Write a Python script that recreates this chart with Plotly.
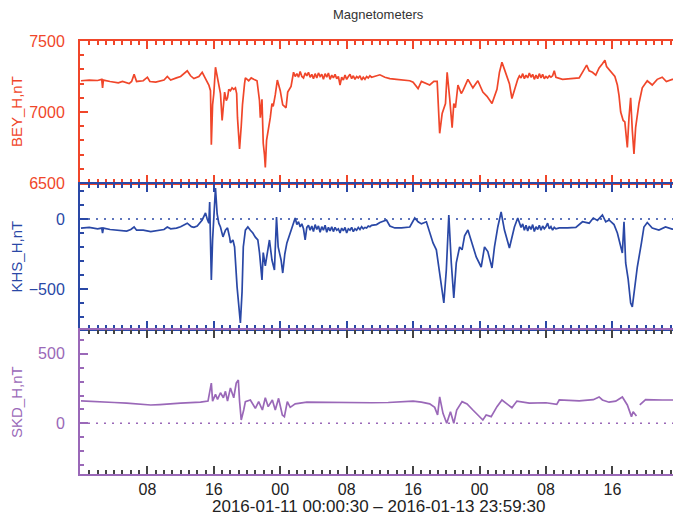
import datetime as dt
import plotly.graph_objects as go

# ---------------- data (hours since 2016-01-11 00:00 UT, nT) ----------------
bey_h = [0.0, 1.0, 2.0, 2.5, 2.6, 2.7, 3.5, 4.5, 5.0, 5.8, 6.1, 6.4, 6.7, 7.5, 8.0, 8.3, 9.0, 10.0,
         10.4, 10.8, 11.5, 12.0, 12.8, 13.2, 13.6, 14.2, 14.6, 15.0, 15.4, 15.6, 15.7, 15.85, 16.0,
         16.2, 16.4, 16.6, 16.8, 17.0, 17.15, 17.3, 17.5, 17.65, 17.8, 18.0, 18.2, 18.4, 18.6, 18.75,
         18.85, 19.0, 19.1, 19.3, 19.45, 19.7, 19.8, 20.2, 20.5, 20.8, 21.2, 21.5, 21.6, 21.8, 21.95,
         22.1, 22.2, 22.35, 22.5, 22.6, 22.8, 23.0, 23.15, 23.4, 23.65, 24.0, 24.3, 24.7, 24.9, 25.3,
         25.6, 25.8, 26.0, 26.2, 26.4, 26.6, 26.8, 27.0, 27.2, 27.4, 27.6, 27.8, 28.0, 28.2, 28.4,
         28.6, 28.8, 29.0, 29.2, 29.4, 29.6, 29.8, 30.0, 30.2, 30.4, 30.6, 30.8, 31.0, 31.2, 31.4,
         31.6, 31.8, 32.0, 32.2, 32.4, 32.6, 32.8, 33.0, 33.2, 33.4, 33.6, 33.8, 34.0, 34.2, 34.4,
         34.6, 34.8, 35.0,
         35.6, 36.0, 36.6, 37.2, 38.0, 38.8, 39.6, 40.0, 40.6, 41.0, 41.6, 42.0, 42.5, 42.9, 43.2,
         43.5, 43.9, 44.1, 44.4, 44.7, 44.9, 45.1, 45.4, 45.8, 46.0, 46.6, 47.2, 47.8, 48.4, 48.9,
         49.5, 50.1, 50.4, 50.7, 51.0, 51.6, 51.9, 52.2, 52.6,
         52.8, 53.0, 53.2, 53.4, 53.6, 53.8, 54.0, 54.2, 54.4, 54.6, 54.8, 55.0, 55.2, 55.4, 55.6,
         55.8, 56.0, 56.2, 56.4, 56.6, 56.8, 57.0, 57.2,
         57.6, 58.0, 59.0, 60.0, 60.5, 60.9, 61.2, 61.6, 62.0, 62.4, 62.8, 63.1, 63.3, 63.6, 64.0,
         64.3, 64.6, 64.8, 65.0, 65.3, 65.5, 65.8, 66.0, 66.2, 66.4, 66.6, 66.8, 67.2, 67.6, 68.2,
         68.8, 69.4, 70.0, 70.5, 71.2, 72.0]
bey_v = [7220, 7225, 7222, 7230, 7170, 7225, 7215, 7205, 7215, 7200, 7215, 7265, 7215, 7220, 7245, 7215, 7210, 7225,
         7250, 7225, 7240, 7250, 7290, 7255, 7235, 7250, 7280, 7230, 7190, 7150, 6770, 7050, 7130,
         7315, 7250, 7200, 7130, 6940, 7060, 7140, 7080, 7100, 7160, 7150, 7170, 7160, 7170, 7130,
         6960, 6780, 6740, 6900, 7050, 7200, 7240, 7220, 7240, 7230, 7220, 7080, 6960, 7090, 6780,
         6700, 6610, 6800, 6850, 6900, 6960, 7060, 7040, 7120, 7225, 7150, 7050, 7030, 7140, 7180,
         7280, 7250, 7270, 7245, 7285, 7250, 7240, 7275, 7255, 7280, 7245, 7265, 7235, 7270, 7240,
         7275, 7250, 7265, 7230, 7270, 7245, 7275, 7230, 7260, 7240, 7265, 7235, 7250, 7190, 7245,
         7225, 7260, 7230, 7250, 7265, 7235, 7255, 7230, 7250, 7240, 7255, 7225, 7245, 7230, 7250,
         7240, 7255, 7245,
         7255, 7262, 7245, 7235, 7230, 7225, 7220, 7210, 7165, 7215, 7200, 7190, 7215, 7215, 6850,
         6990, 7060, 7280, 7100, 6890, 7060, 7030, 7190, 7130, 7150, 7230, 7170, 7220, 7140, 7110,
         7060, 7160, 7280, 7350, 7300, 7200, 7095, 7160, 7230,
         7255, 7240, 7270, 7235, 7260, 7240, 7275, 7245, 7265, 7230, 7260, 7235, 7270, 7240, 7265,
         7235, 7250, 7240, 7255, 7245, 7255, 7290, 7245,
         7235, 7230, 7235, 7240, 7290, 7330, 7290, 7280, 7260, 7310, 7340, 7365, 7320, 7300, 7275,
         7250, 7190, 7115, 7000, 6940, 6930, 6750, 6960, 7100, 6870, 6705, 6890, 7060, 7170, 7220,
         7190, 7230, 7245, 7215, 7230, 7225]

khs_h = [0.0, 1.0, 2.0, 2.5, 2.6, 2.7, 3.5, 4.5, 5.5, 6.0, 6.4, 6.7, 7.5, 8.4, 9.0, 10.0, 10.4, 10.8,
         11.5, 12.0, 12.8, 13.3, 13.6, 14.0, 14.6, 15.0, 15.2, 15.4, 15.5, 15.7, 15.85, 16.0, 16.2,
         16.4, 16.6, 16.8, 17.1, 17.4, 17.65, 17.9, 18.0, 18.3, 18.5, 18.8, 18.95, 19.2, 19.4, 19.55,
         19.8, 20.1, 20.4, 20.7, 21.0, 21.3, 21.5, 21.6, 21.8, 21.95, 22.2, 22.4, 22.7, 23.0, 23.3,
         23.55, 23.75, 24.1, 24.3, 24.55, 24.8,
         25.4, 25.6, 25.8, 26.0, 26.2, 26.4, 26.6, 26.8, 27.0, 27.2, 27.4, 27.6, 27.8, 28.0, 28.2,
         28.4, 28.6, 28.8, 29.0, 29.2, 29.4, 29.6, 29.8, 30.0, 30.2, 30.4, 30.6, 30.8, 31.0, 31.2,
         31.4, 31.6, 31.8, 32.0, 32.2, 32.4, 32.6, 32.8, 33.0, 33.2, 33.4, 33.6, 33.8, 34.0, 34.2,
         34.4, 34.6, 34.8, 35.0,
         35.6, 36.0, 36.8, 37.2, 37.8, 38.6, 39.6, 40.2, 40.6, 41.0, 41.6, 42.0, 42.4, 42.8, 43.2,
         43.7, 44.0, 44.3, 44.6, 44.9, 45.2, 45.6, 45.9, 46.2, 46.6, 47.2, 47.6, 48.2, 48.6, 49.0,
         49.5, 49.8, 50.2, 50.6, 51.0, 51.6, 52.2, 52.6,
         52.8, 53.0, 53.2, 53.4, 53.6, 53.8, 54.0, 54.2, 54.4, 54.6, 54.8, 55.0, 55.2, 55.4, 55.6,
         55.8, 56.0, 56.2, 56.4, 56.6, 56.8, 57.0, 57.2,
         57.6, 58.6, 59.6, 60.4, 61.2, 61.7, 62.2, 62.8, 63.2, 63.6, 64.2, 64.6, 65.0, 65.2, 65.4,
         65.6, 65.9, 66.2, 66.4, 66.7, 67.0, 67.5, 67.8, 68.2, 68.8, 69.6, 70.4, 71.2, 72.0]
khs_v = [-65, -60, -70, -65, -100, -65, -75, -80, -86, -75, -57, -80, -80, -90, -85, -75, -57, -70,
         -65, -55, -30, -55, -60, -50, -7, 43, 0, -30, 121, -435, -150, 60, 221,
         36, -30, -57, -128, -80, -64, -130, -171, -150, -200, -485, -578, -743, -521, -200,
         -80, -57, -80, -100, -130, -150, -240, -293, -435, -240, -335, -260, -150, -293, -364,
         14, -200, -293, -386, -250, -171,
         -64, -30, 7, -40, -20, -57, -35, -70, -150, -60, -45, -80, -50, -90, -40,
         -75, -50, -95, -55, -80, -45, -95, -60, -85, -55, -90, -60, -80, -70, -100,
         -65, -85, -60, -100, -70, -80, -60, -90, -70, -80, -60, -75, -55, -70, -60,
         -65, -50, -55, -45,
         -40, -25, -7, -50, -64, -64, -57, 7, -20, -35, -20, -100, -171, -220, -386,
         -600, -364, 29, -314, -564, -314, -200, -220, -120, -79, -200, -271, -343, -200, -233,
         -350, -200, -57, 50, -79, -207, -57, 7,
         -30, -60, -35, -80, -45, -85, -50, -75, -40, -90, -55, -75, -45, -80, -50,
         -70, -55, -30, -70, -55, -80, -60, -70,
         -64, -64, -60, -20, -30, 7, -10, 29, -20, -7, -40, -100, -200, -243, -20,
         -314, -430, -600, -628, -485, -343, -171, -57, -25, -64, -79, -57, -72, -70]

skd_h = [0.0, 2.0, 4.0, 5.5, 7.0, 8.4, 9.5, 10.4, 12.0, 14.4, 15.3, 15.7, 15.85, 16.2, 16.45, 16.8,
         17.15, 17.4, 17.65, 18.0, 18.4, 18.7, 18.95, 19.1, 19.3, 19.6, 19.8, 20.4, 21.0, 21.4,
         21.85, 22.2, 22.55, 23.05, 23.4, 23.8, 24.25, 24.5, 24.85, 25.2, 25.8, 27.2, 29.0, 31.0,
         33.0, 35.0, 37.0, 39.0, 40.0, 41.0, 42.0, 42.6, 42.95, 43.2, 43.6, 44.05, 44.5, 44.9,
         45.25, 45.9, 46.5, 47.2, 48.0, 48.4, 48.8, 49.4, 50.1, 50.7, 51.3, 51.9, 52.5, 54.0,
         56.0, 57.3, 57.6, 60.0, 61.7, 62.4, 62.8, 63.6, 64.4, 65.2, 65.8, 66.3, 66.5, 66.9, 67.1,
         67.3, 68.0, 70.0, 71.2, 72.0]
skd_v = [161, 158, 150, 145, 138, 132, 135, 140, 145, 152, 160, 290, 160, 208, 172, 220,
         184, 230, 160, 255, 184, 290, 312, 160, 24, 96, 156, 168, 108, 156,
         96, 184, 120, 168, 96, 180, 60, 48, 156, 115, 140, 152, 150, 148,
         145, 148, 150, 155, 160, 152, 140, 115, 60, 190, 72, 0, 84, 0,
         96, 156, 140, 96, 48, 24, 60, 48, 120, 168, 140, 112, 160, 145,
         148, 136, 168, 162, 170, 190, 168, 152, 160, 190, 132, 48, 84, 52, None,
         132, 170, 168, 168, 168]

stations = ["BEY_H,nT", "KHS_H,nT", "SKD_H,nT"]
colors = ["#f0462a", "#2a48a6", "#9a68b8"]
y_ranges = [[6500, 7500], [-786, 250], [-365, 672]]
y_ticks = [[6500, 7000, 7500], [-500, 0], [0, 500]]
t0 = dt.datetime(2016, 1, 11)
x_tick_hours = [8, 16, 24, 32, 40, 48, 56, 64]
x_range = ["2016-01-10 23:53", "2016-01-13 23:18"]
title_text = "Magnetometers"
range_text = "2016-01-11 00:00:30 \u2013 2016-01-13 23:59:30"

assert len(bey_h) == len(bey_v) and len(khs_h) == len(khs_v) and len(skd_h) == len(skd_v)

# ---------------- figure ----------------
W, H = 673, 516
L, R, T, B = 80, 0, 41, 42
ph = H - T - B
domains = [[291 / ph, 1.0], [145 / ph, 290 / ph], [0.0, 144 / ph]]

FONT = "Liberation Sans, Arial, Helvetica, sans-serif"

def to_time(hs):
    return [t0 + dt.timedelta(hours=h) for h in hs]

x_tickvals = to_time(x_tick_hours)
x_ticktext = [t.strftime("%H") for t in x_tickvals]

fig = go.Figure()
series = [(bey_h, bey_v), (khs_h, khs_v), (skd_h, skd_v)]
for i, (hs, vs) in enumerate(series):
    n = "" if i == 0 else str(i + 1)
    fig.add_trace(go.Scatter(x=to_time(hs), y=vs, mode="lines",
                             line=dict(color=colors[i], width=1.7),
                             xaxis="x" + n, yaxis="y" + n, showlegend=False,
                             connectgaps=False, hoverinfo="skip"))
    if y_ranges[i][0] < 0 < y_ranges[i][1]:
        fig.add_trace(go.Scatter(x=x_range, y=[0, 0], mode="lines",
                                 line=dict(color=colors[i], width=1.6, dash="2px,6px"),
                                 xaxis="x" + n, yaxis="y" + n, showlegend=False,
                                 hoverinfo="skip"))

layout = dict(width=W, height=H, margin=dict(l=L, r=R, t=T, b=B),
              paper_bgcolor="white", plot_bgcolor="white",
              font=dict(family=FONT, size=15, color="#222"), showlegend=False)

for i in range(3):
    n = "" if i == 0 else str(i + 1)
    last = (i == 2)
    tcol = colors[i] if not last else "#444"
    layout["xaxis" + n] = dict(
        type="date", range=x_range, anchor="y" + n, domain=[0, 1],
        showline=True, linecolor=colors[i], linewidth=2, mirror="ticks",
        ticks="inside", ticklen=8, tickwidth=1.5, tickcolor=tcol,
        tickmode="array", tickvals=x_tickvals, ticktext=x_ticktext,
        showticklabels=last, tickfont=dict(size=16, color="#222"),
        minor=dict(ticks="inside", ticklen=4, tickwidth=1.5, dtick=3600 * 1000,
                   tick0="2016-01-11 00:00", tickcolor=tcol, showgrid=False),
        showgrid=False, zeroline=False, fixedrange=True,
    )
    if i > 0:
        layout["xaxis" + n]["matches"] = "x"
    layout["yaxis" + n] = dict(
        range=y_ranges[i], domain=domains[i], anchor="x" + n,
        showline=True, linecolor=colors[i], linewidth=2, mirror=False,
        ticks="inside", ticklen=8, tickwidth=1.5, tickcolor=colors[i],
        tickvals=y_ticks[i], tickfont=dict(size=16, color=colors[i]),
        ticklabelstandoff=10,
        minor=dict(ticks="inside", ticklen=4, tickwidth=1.5, dtick=100, tick0=0,
                   tickcolor=colors[i], showgrid=False),
        showgrid=False, zeroline=False, fixedrange=True,
    )

annotations = [
    dict(text=title_text, xref="paper", yref="paper", x=0.504, y=(H - B - 14) / ph,
         xanchor="center", yanchor="middle", showarrow=False,
         font=dict(size=13, color="#333")),
    dict(text=range_text, xref="paper", yref="paper", x=0.504, y=(H - B - 507) / ph,
         xanchor="center", yanchor="middle", showarrow=False,
         font=dict(size=17, color="#222")),
]
for i in range(3):
    annotations.append(dict(text=stations[i], xref="paper", yref="paper",
                            x=(16 - L) / (W - L - R), y=sum(domains[i]) / 2,
                            xanchor="center", yanchor="middle", textangle=-90,
                            showarrow=False, font=dict(size=15, color=colors[i])))
layout["annotations"] = annotations

fig.update_layout(**layout)
fig.write_html("out.html")
